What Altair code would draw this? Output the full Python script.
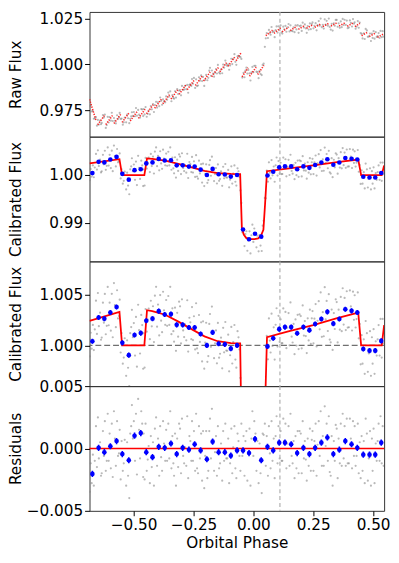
import altair as alt
import pandas as pd
import numpy as np

PH_MIN, PH_MAX = -0.684, 0.546
MARK_PHASE = 0.111
BIN_ERR = 0.00025

# ---- binned (blue) points ----
bin_phase = [-0.672, -0.646, -0.622, -0.597, -0.571, -0.547, -0.520, -0.496, -0.470, -0.447,
             -0.421, -0.395, -0.370, -0.344, -0.320, -0.295, -0.269, -0.245, -0.220, -0.194,
             -0.170, -0.145, -0.119, -0.094, -0.068, -0.043, -0.018, 0.007, 0.033, 0.059,
             0.083, 0.108, 0.132, 0.158, 0.183, 0.209, 0.234, 0.258, 0.284, 0.309,
             0.334, 0.359, 0.384, 0.410, 0.434, 0.459, 0.485, 0.509, 0.534]
bin_flux = [1.00041, 1.00275, 1.00263, 1.00323, 1.00378, 1.00025, 0.99904, 1.00102, 1.00121, 1.00243,
            1.00263, 1.00337, 1.00304, 1.00308, 1.00202, 1.00202, 1.00176, 1.00176, 1.00112, 1.00000,
            1.00128, 1.00016, 1.00010, 0.99968, 1.00000, 0.98864, 0.98661, 0.98777, 0.98716, 0.99990,
            1.00070, 1.00160, 1.00180, 1.00180, 1.00120, 1.00180, 1.00150, 1.00210, 1.00260, 1.00330,
            1.00214, 1.00260, 1.00356, 1.00340, 1.00323, 0.99964, 0.99948, 0.99948, 1.00044]
bin_resid = [-0.00205, 0.00005, -0.00030, 0.00018, 0.00060, -0.00045, -0.00095, 0.00103, 0.00124, -0.00030,
             -0.00070, 0.00013, 0.00005, 0.00040, -0.00045, 0.00005, -0.00010, 0.00034, -0.00016, -0.00087,
             0.00055, -0.00030, -0.00030, -0.00058, -0.00016, -0.00016, -0.00037, 0.00076, -0.00095, 0.00013,
             -0.00016, 0.00047, 0.00047, 0.00034, -0.00037, 0.00005, -0.00045, 0.00005, 0.00047, 0.00089,
             -0.00045, -0.00010, 0.00060, 0.00034, 0.00005, -0.00050, -0.00050, -0.00050, 0.00047]

# ---- astrophysical model (red line) ----
model_phase = [-0.684, -0.559, -0.548, -0.455, -0.444, -0.422, -0.368, -0.313, -0.258, -0.204,
               -0.149, -0.094, -0.055, -0.048, -0.040, -0.030, -0.015, 0.005, 0.020, 0.032,
               0.042, 0.049, 0.057, 0.150, 0.250, 0.350, 0.438, 0.450, 0.536, 0.546]
model_flux = [1.00241, 1.00330, 1.00000, 1.00000, 1.00346, 1.00337, 1.00302, 1.00234, 1.00160, 1.00089,
              1.00041, 1.00022, 1.00019, 0.98900, 0.98760, 0.98690, 0.98665, 0.98665, 0.98680, 0.98740,
              0.98860, 0.99400, 1.00080, 1.00140, 1.00200, 1.00268, 1.00323, 1.00000, 1.00000, 1.00200]

# ---- raw-flux systematics model (red sawtooth) ----
tooth_start = [-0.684, -0.650, -0.616, -0.582, -0.548, -0.514, -0.480, -0.446, -0.412, -0.378,
               -0.344, -0.310, -0.276, -0.242, -0.208, -0.174, -0.140, -0.106, -0.072, -0.047,
               -0.016, 0.018, 0.052, 0.086, 0.120, 0.154, 0.188, 0.222, 0.256, 0.290,
               0.324, 0.358, 0.392, 0.424, 0.452, 0.484, 0.518]
tooth_end = [-0.656, -0.622, -0.588, -0.554, -0.520, -0.486, -0.452, -0.418, -0.384, -0.350,
             -0.316, -0.282, -0.248, -0.214, -0.180, -0.146, -0.112, -0.078, -0.052, -0.022,
             0.012, 0.044, 0.080, 0.114, 0.148, 0.182, 0.216, 0.250, 0.284, 0.318,
             0.352, 0.386, 0.420, 0.445, 0.478, 0.512, 0.546]
tooth_from = [0.9810, 0.9670, 0.9671, 0.9677, 0.9683, 0.9691, 0.9705, 0.9730, 0.9760, 0.9785,
              0.9811, 0.9837, 0.9862, 0.9885, 0.9909, 0.9933, 0.9960, 0.9990, 1.0020, 0.9932,
              0.9935, 0.9945, 1.0157, 1.0170, 1.0178, 1.0185, 1.0192, 1.0198, 1.0203, 1.0207,
              1.0210, 1.0210, 1.0209, 1.0207, 1.0157, 1.0153, 1.0148]
tooth_to = [0.9690, 0.9720, 0.9721, 0.9727, 0.9733, 0.9741, 0.9755, 0.9780, 0.9810, 0.9835,
            0.9861, 0.9887, 0.9912, 0.9935, 0.9959, 0.9983, 1.0010, 1.0040, 1.0062, 0.9982,
            0.9985, 0.9995, 1.0187, 1.0200, 1.0204, 1.0209, 1.0214, 1.0218, 1.0223, 1.0227,
            1.0230, 1.0230, 1.0229, 1.0225, 1.0177, 1.0173, 1.0168]

# ---- individual (gray) points: phase and residual (units of 1e-4) ----
gray_phase = [
    -0.683, -0.679, -0.675, -0.670, -0.666, -0.662, -0.657, -0.653, -0.649, -0.645, -0.640, -0.636,
    -0.633, -0.628, -0.624, -0.620, -0.616, -0.612, -0.608, -0.604, -0.600, -0.595, -0.591, -0.587,
    -0.582, -0.578, -0.574, -0.569, -0.565, -0.561, -0.558, -0.554, -0.550, -0.545, -0.541, -0.537,
    -0.531, -0.527, -0.523, -0.518, -0.514, -0.510, -0.507, -0.503, -0.499, -0.494, -0.490, -0.486,
    -0.481, -0.477, -0.473, -0.468, -0.464, -0.460, -0.458, -0.454, -0.450, -0.445, -0.441, -0.437,
    -0.432, -0.428, -0.424, -0.419, -0.415, -0.411, -0.406, -0.402, -0.398, -0.393, -0.389, -0.385,
    -0.381, -0.377, -0.373, -0.368, -0.364, -0.360, -0.355, -0.351, -0.347, -0.342, -0.338, -0.334,
    -0.331, -0.327, -0.323, -0.318, -0.314, -0.310, -0.306, -0.302, -0.298, -0.293, -0.289, -0.285,
    -0.280, -0.276, -0.272, -0.267, -0.263, -0.259, -0.256, -0.252, -0.248, -0.243, -0.239, -0.235,
    -0.231, -0.227, -0.223, -0.218, -0.214, -0.210, -0.205, -0.201, -0.197, -0.192, -0.188, -0.184,
    -0.181, -0.177, -0.173, -0.168, -0.164, -0.160, -0.156, -0.152, -0.148, -0.143, -0.139, -0.135,
    -0.130, -0.126, -0.122, -0.117, -0.113, -0.109, -0.105, -0.101, -0.097, -0.092, -0.088, -0.084,
    -0.079, -0.075, -0.071, -0.066, -0.062, -0.058, -0.054, -0.050, -0.046, -0.041, -0.037, -0.033,
    -0.029, -0.025, -0.021, -0.016, -0.012, -0.008, -0.004, 0.000, 0.004, 0.009, 0.013, 0.017,
    0.022, 0.026, 0.030, 0.035, 0.039, 0.043, 0.048, 0.052, 0.056, 0.061, 0.065, 0.069,
    0.072, 0.076, 0.080, 0.085, 0.089, 0.093, 0.097, 0.101, 0.105, 0.110, 0.114, 0.118,
    0.121, 0.125, 0.129, 0.134, 0.138, 0.142, 0.147, 0.151, 0.155, 0.160, 0.164, 0.168,
    0.172, 0.176, 0.180, 0.185, 0.189, 0.193, 0.198, 0.202, 0.206, 0.211, 0.215, 0.219,
    0.223, 0.227, 0.231, 0.236, 0.240, 0.244, 0.247, 0.251, 0.255, 0.260, 0.264, 0.268,
    0.273, 0.277, 0.281, 0.286, 0.290, 0.294, 0.298, 0.302, 0.306, 0.311, 0.315, 0.319,
    0.323, 0.327, 0.331, 0.336, 0.340, 0.344, 0.348, 0.352, 0.356, 0.361, 0.365, 0.369,
    0.373, 0.377, 0.381, 0.386, 0.390, 0.394, 0.399, 0.403, 0.407, 0.412, 0.416, 0.420,
    0.423, 0.427, 0.431, 0.436, 0.440, 0.444, 0.448, 0.452, 0.456, 0.461, 0.465, 0.469,
    0.474, 0.478, 0.482, 0.487, 0.491, 0.495, 0.498, 0.502, 0.506, 0.511, 0.515, 0.519,
    0.523, 0.527, 0.531, 0.536, 0.540, 0.544]
gray_resid_1e4 = [
    -35, -12, -28, -5, -30, -10, 18, -15, 25, -8, 5, -22,
    -20, 14, -6, 22, -18, -10, 28, -10, 12, -16, 20, -23,
    30, 8, -14, 22, -6, -4, 15, -25, 6, -18, -12, 7,
    -30, 5, -22, -40, 12, 18, 35, 8, 22, -10, 28, -21,
    40, 15, -8, 30, 20, -23, 12, -25, 20, -18, -9, 2,
    -28, 10, -15, 5, -30, 16, 25, -14, 8, -22, 18, -7,
    -18, 22, 4, -10, 15, -10, 20, -8, 30, -16, 10, -12,
    -22, 12, -30, 8, -15, 20, 16, -20, 24, -6, -12, 1,
    -14, 26, -24, 10, 6, -10, 22, -10, 14, -18, 28, -16,
    -20, 18, -8, 12, -26, 14, -32, -6, 14, -24, -18, 14,
    24, -8, 32, 6, -18, -3, 10, -22, 18, -16, -12, 4,
    -26, 14, -10, 20, -8, -8, 8, -28, -12, 16, -20, 1,
    18, -16, -24, 12, 6, -6, -18, 20, -6, 10, -22, 6,
    14, -26, -4, 16, -30, 8, 30, -6, 22, 12, -18, 6,
    -28, 4, -20, -36, 12, 11, 20, -14, 10, -22, 18, -4,
    -16, 22, -10, 8, -24, 10, 26, -12, 18, -8, 14, -10,
    -10, 24, 6, 20, -16, 4, 18, -14, 28, -6, -12, 6,
    -24, 10, -16, 14, -20, 14, 12, -20, 22, -8, 6, -9,
    -26, 8, -14, 16, -18, 7, 14, -18, 6, 20, -22, 3,
    22, -6, 30, -14, 10, -14, 34, 2, 20, -10, 26, -19,
    -22, 10, -30, 6, -10, 19, 16, -24, 8, -12, 20, -14,
    28, -8, 18, -14, 24, -12, -12, 24, 8, -16, 22, -6,
    18, -14, -6, 20, -20, 5, -24, 10, -18, 6, -28, 24,
    12, -26, -8, 14, -30, 8, -18, 16, -28, 4, -10, 6,
    20, -10, 26, -12, 18, -14]

# ---------- tables ----------
gray_resid = np.array(gray_resid_1e4) / 1e4
saw_x = np.ravel(np.column_stack([tooth_start, tooth_end]))
saw_y = np.ravel(np.column_stack([tooth_from, tooth_to]))
gray = pd.DataFrame({
    "phase": gray_phase,
    "resid": gray_resid,
    "flux": np.interp(gray_phase, model_phase, model_flux) + gray_resid,
    "raw": np.interp(gray_phase, saw_x, saw_y) + gray_resid,
})
bins = pd.DataFrame({"phase": bin_phase, "flux": bin_flux, "resid": bin_resid})
bins["flux_lo"] = bins["flux"] - BIN_ERR
bins["flux_hi"] = bins["flux"] + BIN_ERR
bins["resid_lo"] = bins["resid"] - BIN_ERR
bins["resid_hi"] = bins["resid"] + BIN_ERR
model = pd.DataFrame({"phase": model_phase, "flux": model_flux})
teeth = pd.DataFrame({"phase": tooth_start, "phase2": tooth_end, "raw": tooth_from, "raw2": tooth_to})
vline = pd.DataFrame({"phase": [MARK_PHASE]})

W, H = 300, 127
GRAY = "#7f7f7f"
P3_DOMAIN = [0.99599, 1.00827]
RES_DOMAIN = [-0.00503, 0.00503]
xscale = alt.Scale(domain=[PH_MIN, PH_MAX], nice=False, zero=False)


def yaxis(title, values, fmt, label_expr=None):
    kw = dict(title=title, values=values, format=fmt, titleX=-70.5, titleBaseline="alphabetic")
    if label_expr:
        kw["labelExpr"] = label_expr
    return alt.Axis(**kw)


def panel(ycol, domain, axis, bottom=False):
    if bottom:
        xax = alt.Axis(title="Orbital Phase", values=[-0.5, -0.25, 0.0, 0.25, 0.5],
                       format=".2f", titlePadding=3)
    else:
        xax = None
    X = alt.X("phase:Q", scale=xscale, axis=xax)
    Y = alt.Y(f"{ycol}:Q", scale=alt.Scale(domain=domain, nice=False, zero=False), axis=axis)
    pts = alt.Chart(gray).mark_circle(size=5, color=GRAY, opacity=0.55, clip=True).encode(x=X, y=Y)
    vl = alt.Chart(vline).mark_rule(color="#b0b0b0", strokeDash=[4, 3], strokeWidth=1.2).encode(x=X)
    return X, Y, pts, vl


# Panel 1: raw flux
X1, Y1, g1, v1 = panel("raw", [0.9605, 1.0287],
                       yaxis("Raw Flux", [0.975, 1.000, 1.025], ".3f"))
red1 = alt.Chart(teeth).mark_rule(color="#ff0000", strokeWidth=1.6, strokeDash=[1.3, 1.3],
                                  opacity=0.85, clip=True).encode(
    x=X1, x2="phase2:Q", y=Y1, y2="raw2:Q")
p1 = alt.layer(g1, v1, red1).properties(width=W, height=H)

# Panel 2: calibrated flux (full range)
X2, Y2, g2, v2 = panel("flux", [0.982, 1.008],
                       yaxis("Calibrated Flux", [0.99, 1.00], ".2f"))
m2 = alt.Chart(model).mark_line(color="#ff0000", strokeWidth=1.8, clip=True).encode(x=X2, y=Y2)
b2 = alt.Chart(bins).mark_circle(size=22, color="#0000ff", opacity=1, clip=True).encode(x=X2, y=Y2)
p2 = alt.layer(g2, v2, m2, b2).properties(width=W, height=H)

# Panel 3: calibrated flux (zoom); its bottom edge carries the residual panel's top tick (0.005)
X3, Y3, g3, v3 = panel("flux", P3_DOMAIN,
                       yaxis("Calibrated Flux", [P3_DOMAIN[0], 1.000, 1.005], ".3f",
                             f"datum.value < 0.999 ? format({RES_DOMAIN[1]}, '.3f') : format(datum.value, '.3f')"))
h3 = alt.Chart(pd.DataFrame({"flux": [1.0]})).mark_rule(
    color="#707070", strokeDash=[6, 3], strokeWidth=1.3).encode(y=Y3)
m3 = alt.Chart(model).mark_line(color="#ff0000", strokeWidth=1.8, clip=True).encode(x=X3, y=Y3)
e3 = alt.Chart(bins).mark_rule(color="#0000ff", strokeWidth=1.6, clip=True).encode(
    x=X3, y=alt.Y("flux_lo:Q"), y2="flux_hi:Q")
b3 = alt.Chart(bins).mark_circle(size=22, color="#0000ff", opacity=1, clip=True).encode(x=X3, y=Y3)
p3 = alt.layer(g3, v3, h3, m3, e3, b3).properties(width=W, height=H)

# Panel 4: residuals
X4, Y4, g4, v4 = panel("resid", RES_DOMAIN,
                       yaxis("Residuals", [-0.005, 0.0], ".3f"), bottom=True)
z4 = alt.Chart(pd.DataFrame({"resid": [0.0]})).mark_rule(color="#ff0000", strokeWidth=1.6).encode(y=Y4)
e4 = alt.Chart(bins).mark_rule(color="#0000ff", strokeWidth=1.6, clip=True).encode(
    x=X4, y=alt.Y("resid_lo:Q"), y2="resid_hi:Q")
b4 = alt.Chart(bins).mark_circle(size=22, color="#0000ff", opacity=1, clip=True).encode(x=X4, y=Y4)
p4 = alt.layer(g4, v4, z4, e4, b4).properties(width=W, height=H)

chart = alt.vconcat(p1, p2, p3, p4, spacing=0, bounds="flush").properties(
    padding={"left": 0, "top": -3, "right": 0, "bottom": 0}
).configure_view(stroke="#333333", strokeWidth=1).configure_axis(
    labelFont="DejaVu Sans", titleFont="DejaVu Sans", labelFontSize=15.5, titleFontSize=15.5,
    labelColor="black", titleColor="black", tickColor="black", tickSize=5, tickWidth=1,
    labelPadding=2, domain=False, grid=False, titleFontWeight="normal"
)

chart.save("out.html", embed_options={"renderer": "svg", "actions": False})
